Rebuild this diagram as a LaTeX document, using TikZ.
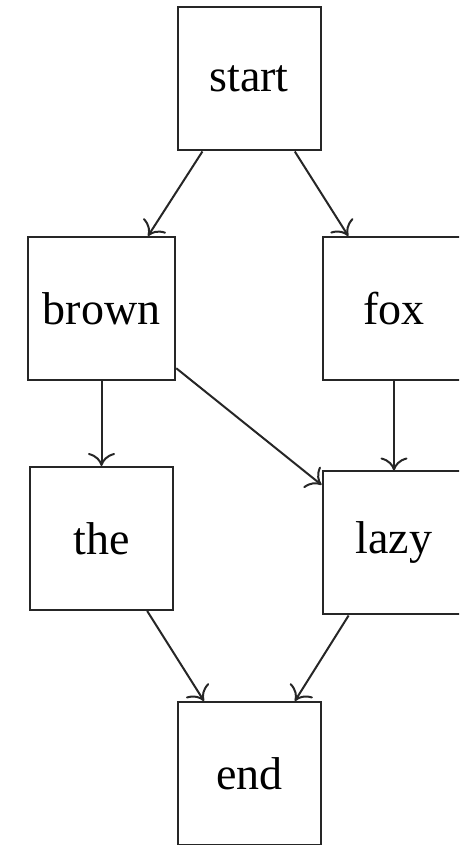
\documentclass[tikz,border=0pt]{standalone}
\usepackage{fontspec}
\setmainfont{Liberation Serif}
\usetikzlibrary{arrows.meta}
\begin{document}
\begin{tikzpicture}[x=1pt,y=1pt,
  box/.style={draw=black!85, line width=2pt, minimum width=143pt, minimum height=143pt,
    inner xsep=15pt, font=\fontsize{46}{50}\selectfont},
  link/.style={draw=black!85, line width=2pt, -{To[length=13pt,width=27pt]}}]
\useasboundingbox (0,0) rectangle (459,845);
\clip (0,0) rectangle (459,845);
\node[box] (start) at (249,766) {start};
\node[box] (brown) at (101.5,536.5) {brown};
\node[box] (fox) at (394,536.5) {fox};
\node[box] (the) at (101.5,306.5) {the};
\node[box] (lazy) at (394,302) {lazy};
\node[box] (end) at (249.5,71.5) {end};
\draw[link] (start) -- (brown);
\draw[link] (start) -- (fox);
\draw[link] (brown) -- (the);
\draw[link] (brown) -- (lazy);
\draw[link] (fox) -- (lazy);
\draw[link] (the) -- (end);
\draw[link] (lazy) -- (end);
\end{tikzpicture}
\end{document}
